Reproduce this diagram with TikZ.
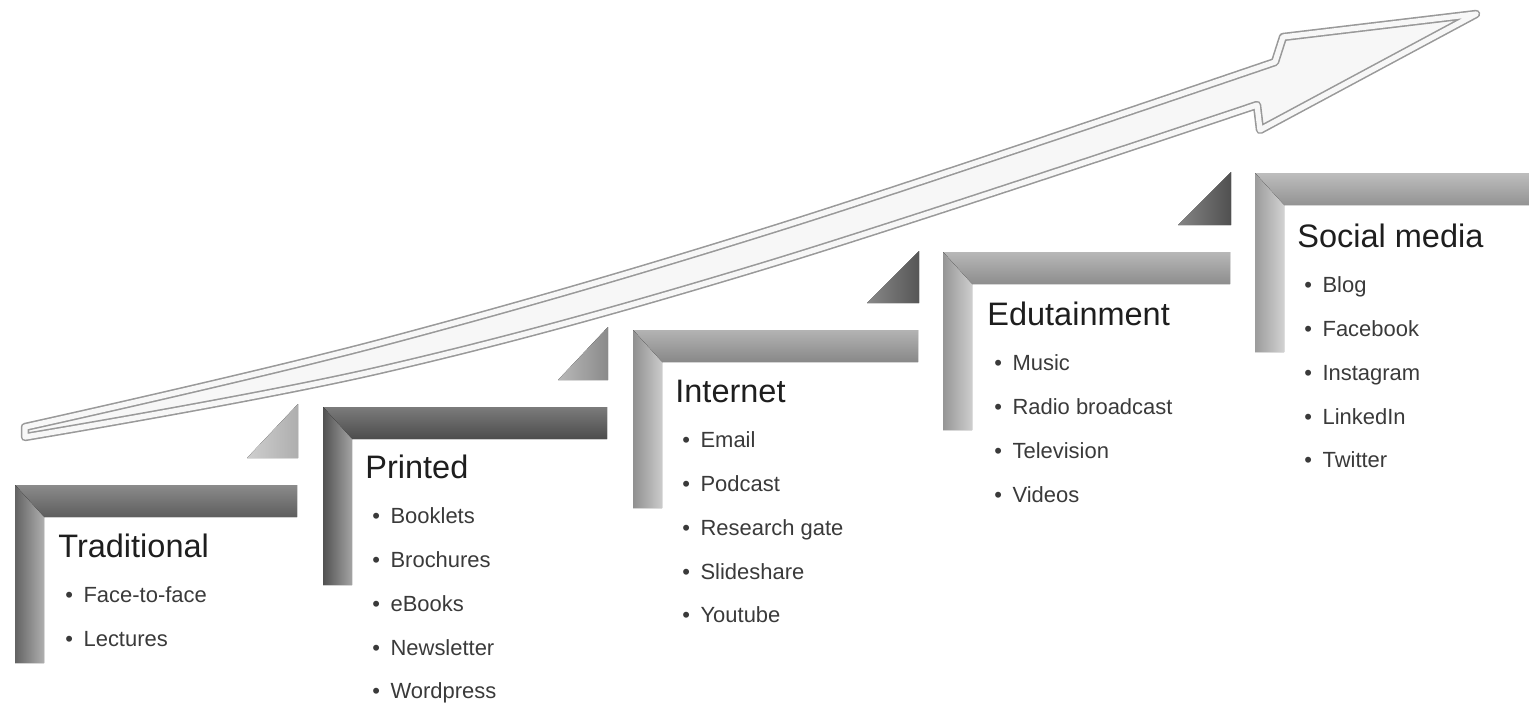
\documentclass[tikz,border=0pt]{standalone}
\usepackage{fontspec}
\setmainfont{Liberation Sans}
\usetikzlibrary{positioning}
\definecolor{framea}{HTML}{6E6E6E}
\definecolor{frameb}{HTML}{5A5A5A}
\definecolor{framec}{HTML}{A0A0A0}
\definecolor{framed}{HTML}{A6A6A6}
\definecolor{framee}{HTML}{ADADAD}
\definecolor{tria}{HTML}{AEAEAE}
\definecolor{trib}{HTML}{8A8A8A}
\definecolor{tric}{HTML}{565656}
\definecolor{trid}{HTML}{505050}
\definecolor{titlegray}{HTML}{1E1E1E}
\definecolor{listgray}{HTML}{3A3A3A}
\tikzset{steptitle/.style={
			  anchor          = base west,
			  inner sep       = 0pt,
			  text            = titlegray,
			  font            = \fontsize{18.5}{22}\selectfont
			}}
\tikzset{steplist/.style={
			  anchor          = north west,
			  inner sep       = 0pt,
			  align           = left,
			  text            = listgray,
			  font            = \fontsize{12.5}{25}\selectfont
			}}
\tikzset{arrowband/.style={
			  fill            = gray!6,
			  draw            = gray!80,
			  double          = gray!6,
			  double distance = 3pt,
			  line width      = 0.9pt,
			  line join       = round
			}}
\tikzset{steptri/.style={
			  draw            = none
			}}
\newcommand{\itm}{\textbullet\hspace{6pt}}
% L-shaped frame: x0, y0, x1 (bar end), y2 (post end), colour
\newcommand{\stepframe}[5]{%
  \fill[top color=#5!80, bottom color=#5!85!black]
    (#1,#2) -- (#3,#2) -- (#3,#2+32) -- (#1+29,#2+32) -- cycle;
  \fill[left color=#5!90!black, right color=#5!55]
    (#1,#2) -- (#1+29,#2+32) -- (#1+29,#4) -- (#1,#4) -- cycle;
}

\begin{document}
\begin{tikzpicture}[x=0.02cm, y=-0.02cm]
    \useasboundingbox (0,0) rectangle (1529,707);

    % rising arrow
    \draw [arrowband] plot[smooth, tension=0.6] coordinates {(25,427) (380,343) (780,227) (1275,62)}
        -- (1283,37) -- (1476,14) -- (1260,130) -- (1257,105)
        -- plot[smooth, tension=0.6] coordinates {(1257,105) (760,267) (380,370) (25,437)} -- cycle;

    % frames
    \stepframe{15}{485}{297}{663}{framea}
    \stepframe{323}{407}{607}{585}{frameb}
    \stepframe{633}{330}{918}{508}{framec}
    \stepframe{943}{252}{1230}{430}{framed}
    \stepframe{1255}{173}{1529}{352}{framee}

    % triangles
    \fill [steptri, left color=tria!60, right color=tria] (247,458) -- (298,458) -- (298,404) -- cycle;
    \fill [steptri, left color=trib!60, right color=trib] (558,380) -- (608,380) -- (608,327) -- cycle;
    \fill [steptri, left color=tric!70, right color=tric] (867,303) -- (919,303) -- (919,251) -- cycle;
    \fill [steptri, left color=trid!70, right color=trid] (1178,225) -- (1231,225) -- (1231,172) -- cycle;

    \node (trad)     [steptitle] at (58,557)   {Traditional};
    \node (tradlist) [steplist, below right=0.58cm and 0.14cm of trad.base west]
        {\itm Face-to-face\\ \itm Lectures};
    \node (print)     [steptitle] at (365,478) {Printed};
    \node (printlist) [steplist, below right=0.58cm and 0.14cm of print.base west]
        {\itm Booklets\\ \itm Brochures\\ \itm eBooks\\ \itm Newsletter\\ \itm Wordpress};
    \node (inet)     [steptitle] at (675,402)  {Internet};
    \node (inetlist) [steplist, below right=0.58cm and 0.14cm of inet.base west]
        {\itm Email\\ \itm Podcast\\ \itm Research gate\\ \itm Slideshare\\ \itm Youtube};
    \node (edu)     [steptitle] at (987,325)   {Edutainment};
    \node (edulist) [steplist, below right=0.58cm and 0.14cm of edu.base west]
        {\itm Music\\ \itm Radio broadcast\\ \itm Television\\ \itm Videos};
    \node (social)     [steptitle] at (1297,247) {Social media};
    \node (sociallist) [steplist, below right=0.58cm and 0.14cm of social.base west]
        {\itm Blog\\ \itm Facebook\\ \itm Instagram\\ \itm LinkedIn\\ \itm Twitter};

\end{tikzpicture}
\end{document}
